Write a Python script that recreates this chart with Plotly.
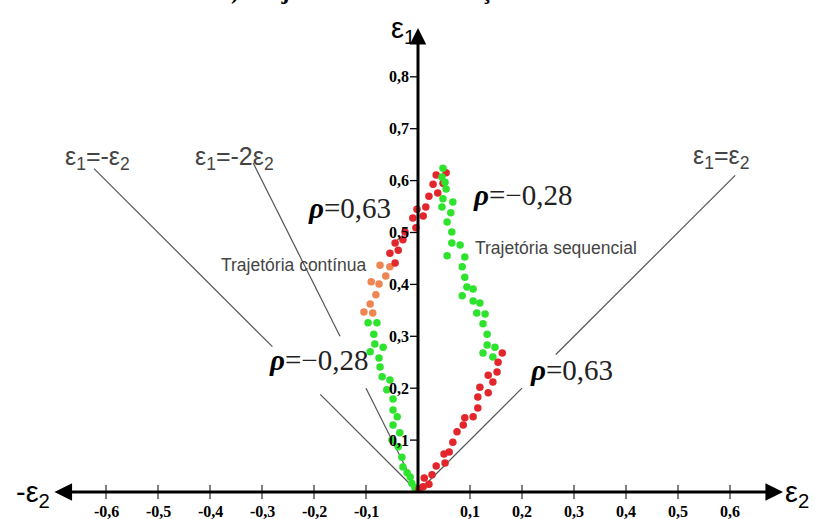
import plotly.graph_objects as go

# ---------------- data ----------------
# Continuous trajectory (left)
cont_green_e2 = [-0.096, -0.079, -0.085, -0.083, -0.067, -0.092, -0.075, -0.073, -0.069, -0.054, -0.060,
                 -0.048, -0.048, -0.040, -0.048, -0.035, -0.050, -0.038, -0.031, -0.029, -0.021, -0.015,
                 -0.012, -0.006]
cont_green_e1 = [0.326, 0.326, 0.304, 0.285, 0.279, 0.270, 0.258, 0.241, 0.222, 0.216, 0.197,
                 0.179, 0.158, 0.145, 0.129, 0.114, 0.100, 0.087, 0.067, 0.048, 0.037, 0.029,
                 0.017, 0.008]
cont_orange_e2 = [-0.073, -0.054, -0.062, -0.090, -0.075, -0.081, -0.092, -0.087, -0.104]
cont_orange_e1 = [0.437, 0.434, 0.416, 0.405, 0.401, 0.380, 0.362, 0.345, 0.347]
cont_red_e2 = [0.035, 0.054, 0.029, 0.048, 0.021, 0.038, 0.015, -0.002, 0.010, -0.010, -0.004,
               -0.025, -0.029, -0.044, -0.038, -0.054, -0.044]
cont_red_e1 = [0.611, 0.615, 0.593, 0.595, 0.570, 0.576, 0.549, 0.545, 0.532, 0.528, 0.509,
               0.501, 0.486, 0.480, 0.466, 0.460, 0.441]

# Sequential trajectory (right)
seq_red_e2 = [0.162, 0.154, 0.152, 0.135, 0.144, 0.119, 0.135, 0.115, 0.115, 0.106, 0.090,
              0.087, 0.075, 0.067, 0.060, 0.050, 0.052, 0.035, 0.027, 0.021, 0.012, 0.010, 0.002]
seq_red_e1 = [0.268, 0.250, 0.231, 0.225, 0.212, 0.202, 0.191, 0.183, 0.162, 0.145, 0.143,
              0.129, 0.116, 0.096, 0.077, 0.073, 0.056, 0.050, 0.033, 0.015, 0.027, 0.010, 0.006]
seq_green_e2 = [0.048, 0.046, 0.052, 0.054, 0.048, 0.067, 0.046, 0.063, 0.056, 0.065, 0.065,
                0.081, 0.056, 0.090, 0.085, 0.090, 0.094, 0.106, 0.085, 0.106, 0.119, 0.113,
                0.129, 0.125, 0.133, 0.133, 0.148, 0.125, 0.144]
seq_green_e1 = [0.624, 0.607, 0.597, 0.584, 0.565, 0.559, 0.549, 0.538, 0.520, 0.501, 0.480,
                0.476, 0.455, 0.453, 0.434, 0.414, 0.395, 0.391, 0.378, 0.368, 0.364, 0.345,
                0.343, 0.324, 0.304, 0.283, 0.279, 0.268, 0.260]

# Reference lines  e1 = slope * e2, drawn over e2 segments (gaps around labels)
ref_lines = [
    (1.0, [(0.0, 0.20), (0.265, 0.61)]),          # e1 = e2
    (-1.0, [(-0.623, -0.28), (-0.188, 0.0)]),     # e1 = -e2
    (-2.0, [(-0.317, -0.15), (-0.10, 0.0)]),      # e1 = -2 e2
]

x_ticks = [-0.6, -0.5, -0.4, -0.3, -0.2, -0.1, 0.1, 0.2, 0.3, 0.4, 0.5, 0.6]
x_tick_labels = ["-0,6", "-0,5", "-0,4", "-0,3", "-0,2", "-0,1", "0,1", "0,2", "0,3", "0,4", "0,5", "0,6"]
y_ticks = [0.1, 0.2, 0.3, 0.4, 0.5, 0.6, 0.7, 0.8]
y_tick_labels = ["0,1", "0,2", "0,3", "0,4", "0,5", "0,6", "0,7", "0,8"]

RED = "#e3262c"
GREEN = "#2ee32e"
ORANGE = "#ef8552"

SERIF = "Liberation Serif"
SANS = "Liberation Sans"

fig = go.Figure()

# reference lines
for slope, segs in ref_lines:
    xs, ys = [], []
    for a, b in segs:
        xs += [a, b, None]
        ys += [slope * a, slope * b, None]
    fig.add_trace(go.Scatter(x=xs, y=ys, mode="lines", line=dict(color="#555555", width=1.2),
                             hoverinfo="skip", showlegend=False))

def dots(xv, yv, color):
    fig.add_trace(go.Scatter(x=xv, y=yv, mode="markers",
                             marker=dict(color=color, size=7.5, line=dict(width=0)),
                             showlegend=False))

dots(cont_green_e2, cont_green_e1, GREEN)
dots(cont_orange_e2, cont_orange_e1, ORANGE)
dots(cont_red_e2, cont_red_e1, RED)
dots(seq_green_e2, seq_green_e1, GREEN)
dots(seq_red_e2, seq_red_e1, RED)

X_TIP = 0.702
Y_TIP = 0.894

shapes = []
for v in x_ticks:
    shapes.append(dict(type="line", xref="x", yref="y", ysizemode="pixel", yanchor=0,
                       x0=v, x1=v, y0=-7, y1=7, line=dict(color="black", width=1)))
for v in y_ticks:
    shapes.append(dict(type="line", xref="x", yref="y", xsizemode="pixel", xanchor=0,
                       x0=-8, x1=0, y0=v, y1=v, line=dict(color="black", width=1.3)))

ann = []
# axes arrows
ann.append(dict(x=X_TIP, y=0, ax=-X_TIP, ay=0, xref="x", yref="y", axref="x", ayref="y",
                text="", showarrow=True, arrowhead=2, arrowside="end+start", arrowsize=1.1,
                arrowwidth=3.2, arrowcolor="black"))
ann.append(dict(x=0, y=Y_TIP, ax=0, ay=0, xref="x", yref="y", axref="x", ayref="y",
                text="", showarrow=True, arrowhead=2, arrowsize=1.1,
                arrowwidth=3, arrowcolor="black"))

tick_font = dict(family=SERIF, size=16, color="black")
for v, t in zip(x_ticks, x_tick_labels):
    ann.append(dict(x=v, y=0, xref="x", yref="y", text="<b>%s</b>" % t, showarrow=False,
                    font=tick_font, yanchor="middle", yshift=-19))
for v, t in zip(y_ticks, y_tick_labels):
    ann.append(dict(x=0, y=v, xref="x", yref="y", text="<b>%s</b>" % t, showarrow=False,
                    font=tick_font, xanchor="right", xshift=-7, yanchor="middle"))

axis_font = dict(family=SANS, size=29, color="black")
ann.append(dict(x=0, y=Y_TIP, xref="x", yref="y", text="ε<sub>1</sub>", showarrow=False,
                font=axis_font, xanchor="right", xshift=-1, yanchor="middle", yshift=-2))
ann.append(dict(x=-X_TIP, y=0, xref="x", yref="y", text="-ε<sub>2</sub>", showarrow=False,
                font=axis_font, xanchor="right", xshift=-1, yanchor="middle", yshift=-2))
ann.append(dict(x=X_TIP, y=0, xref="x", yref="y", text="ε<sub>2</sub>", showarrow=False,
                font=axis_font, xanchor="left", xshift=0, yanchor="middle", yshift=-2))

rho_font = dict(family=SERIF, size=29, color="#222222")
for (x, y, t) in [(-0.131, 0.547, "0,63"), (0.200, 0.572, "−0,28"),
                  (0.296, 0.235, "0,63"), (-0.192, 0.254, "−0,28")]:
    ann.append(dict(x=x, y=y, xref="x", yref="y",
                    text="<b><i><span style='color:black'>ρ</span></i></b>=" + t,
                    showarrow=False, font=rho_font, xanchor="center", yanchor="middle"))

lab_font = dict(family=SANS, size=17.5, color="#444444")
ann.append(dict(x=-0.238, y=0.437, xref="x", yref="y", text="Trajetória contínua",
                showarrow=False, font=lab_font))
ann.append(dict(x=0.265, y=0.470, xref="x", yref="y", text="Trajetória sequencial",
                showarrow=False, font=lab_font))

eq_font = dict(family=SANS, size=25, color="#444444")
for (x, y, t) in [(-0.617, 0.644, "ε<sub>1</sub>=-ε<sub>2</sub>"),
                  (-0.352, 0.644, "ε<sub>1</sub>=-2ε<sub>2</sub>"),
                  (0.583, 0.645, "ε<sub>1</sub>=ε<sub>2</sub>")]:
    ann.append(dict(x=x, y=y, xref="x", yref="y", text=t, showarrow=False, font=eq_font))

# title (cut off at the top of the image)
ann.append(dict(x=410 / 815, y=1, xref="paper", yref="paper",
                text="<b>a) Trajetórias de deformação lineares</b>", showarrow=False,
                font=dict(family=SERIF, size=24, color="black"),
                yanchor="middle", yshift=9))

fig.update_layout(
    width=815, height=519,
    margin=dict(l=0, r=0, t=0, b=0),
    paper_bgcolor="white", plot_bgcolor="white",
    xaxis=dict(range=[-418 / 520, 397 / 520], visible=False, fixedrange=True),
    yaxis=dict(range=[-27 / 519, 492 / 519], visible=False, fixedrange=True),
    shapes=shapes, annotations=ann, showlegend=False,
)

fig.write_html("out.html",
               config={"displayModeBar": False},
               post_script="document.body.style.margin='0';document.body.style.overflow='hidden';")
